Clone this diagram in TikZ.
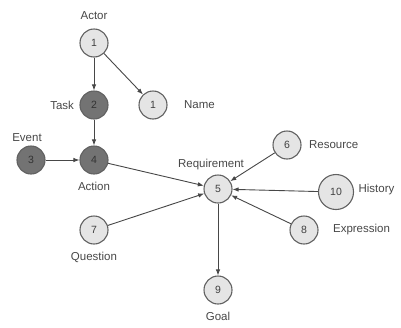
\documentclass[tikz,border=0pt]{standalone}
\usepackage{fontspec}
\setmainfont{Liberation Sans}
\usetikzlibrary{arrows.meta}
\begin{document}
\begin{tikzpicture}[x=1pt,y=-1pt,
    light/.style={circle,draw=black!62,line width=1.1pt,fill=black!10,minimum size=28pt,inner sep=0pt,text=black!75,font=\fontsize{10.5}{12}\selectfont},
    dark/.style={light,fill=black!55,text=black!80},
    link/.style={-{Latex[length=6pt,width=4.5pt]},draw=black!72,line width=0.9pt},
    every label/.style={font=\fontsize{11.5}{13}\selectfont,text=black!72}]
    \useasboundingbox (0,0) rectangle (401,327);
    % nodes
    \node[light,label={[label distance=5pt]above:Actor}] (actor) at (94,43) {1};
    \node[dark,label={[label distance=2pt]left:Task}] (task) at (94,105) {2};
    \node[light,label={[label distance=13pt]right:Name}] (name) at (153,105) {1};
    \node[dark,label={[label distance=0pt,xshift=-4pt]above:Event}] (event) at (31,160) {3};
    \node[dark,label={[label distance=4pt]below:Action}] (action) at (94,160) {4};
    \node[light,label={[label distance=1pt,xshift=-7pt]above:Requirement}] (req) at (218,189) {5};
    \node[light,label={[label distance=4pt]right:Resource}] (resource) at (287,145) {6};
    \node[light,minimum size=35pt,label={[label distance=1pt,yshift=2pt]right:History}] (history) at (336,192) {10};
    \node[light,label={[label distance=11pt]right:Expression}] (expression) at (304,230) {8};
    \node[light,label={[label distance=4pt]below:Question}] (question) at (94,230) {7};
    \node[light,label={[label distance=4pt]below:Goal}] (goal) at (218,290) {9};
    % links
    \draw[link] (actor) -- (task);
    \draw[link] (actor) -- (name);
    \draw[link] (task) -- (action);
    \draw[link] (event) -- (action);
    \draw[link] (action) -- (req);
    \draw[link] (question) -- (req);
    \draw[link] (resource) -- (req);
    \draw[link] (history) -- (req);
    \draw[link] (expression) -- (req);
    \draw[link] (req) -- (goal);
\end{tikzpicture}
\end{document}
